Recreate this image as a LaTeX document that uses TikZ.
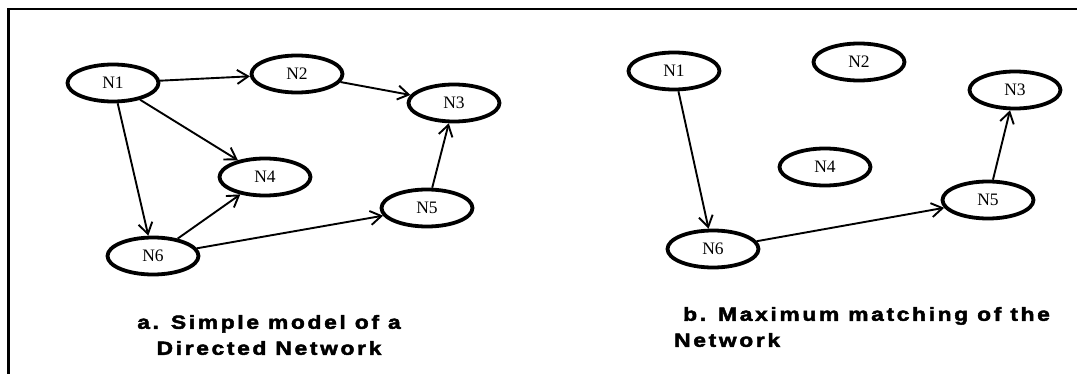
\documentclass[tikz,border=0pt]{standalone}
\usepackage{fontspec}
\setmainfont{Liberation Serif}
\newfontfamily\capfont[UprightFont={* Bold},FakeStretch=1.2,FakeBold=2.5,LetterSpace=14]{Liberation Sans}
\usetikzlibrary{shapes.geometric,arrows.meta}

\begin{document}
\begin{tikzpicture}[x=1pt, y=-1pt,
	net/.style={ellipse, draw, line width=3.8pt, minimum width=91pt, minimum height=37pt, inner sep=0pt, font=\fontsize{17.5}{17.5}\selectfont},
	link/.style={line width=1.9pt, -{Straight Barb[length=11pt,width=14pt]}},
	caption/.style={font=\capfont\fontsize{19}{26}\selectfont, inner sep=0pt}]

	\useasboundingbox (0,0) rectangle (1077,374);
	\draw[line width=2.4pt] (8.5,374) -- (8.5,9) -- (1077,9);

	% a. directed network
	\node (a1) [net] at (113, 83) {N1};
	\node (a2) [net] at (297, 74) {N2};
	\node (a3) [net] at (454, 103) {N3};
	\node (a4) [net] at (265, 177) {N4};
	\node (a5) [net] at (427, 208) {N5};
	\node (a6) [net] at (153, 256) {N6};

	\path[link]
	(a1) edge (a2)
	(a2) edge (a3)
	(a1) edge (a4)
	(a1) edge (a6)
	(a6) edge (a4)
	(a6) edge (a5)
	(a5) edge (a3);

	\node (capa) [caption, align=center] at (269, 335) {a. Simple model of a\\Directed Network};

	% b. maximum matching
	\node (b1) [net] at (674, 71) {N1};
	\node (b2) [net] at (859, 62) {N2};
	\node (b3) [net] at (1015, 90) {N3};
	\node (b4) [net] at (825, 167) {N4};
	\node (b5) [net] at (988, 200) {N5};
	\node (b6) [net] at (713, 249) {N6};

	\path[link]
	(b1) edge (b6)
	(b6) edge (b5)
	(b5) edge (b3);

	\node (capb) [caption, align=left, anchor=west] at (674, 327) {\ b. Maximum matching of the\\Network};

\end{tikzpicture}
\end{document}
